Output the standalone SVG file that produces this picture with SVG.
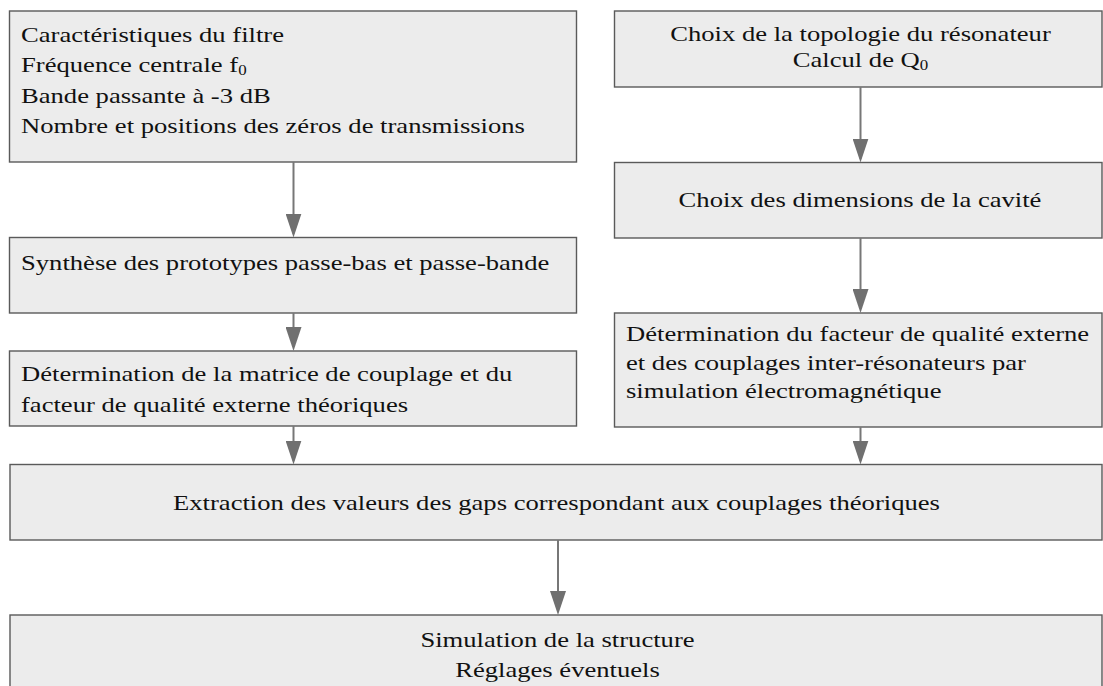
<svg xmlns="http://www.w3.org/2000/svg" width="1103" height="686" viewBox="0 0 1103 686">
<style>
.box{fill:#ececec;stroke:#5a5a5a;stroke-width:1.4}
.t{font-family:"Liberation Serif","Times New Roman",serif;font-size:22px;fill:#111}
.c{text-anchor:middle}
.sub{font-size:14px}
.conn line{stroke:#777;stroke-width:2;marker-end:url(#ah)}
</style>
<defs>
<marker id="ah" markerUnits="userSpaceOnUse" viewBox="0 0 24 16" refX="20" refY="8" markerWidth="24" markerHeight="16" orient="auto">
<path d="M0,0 L24,8 L0,16 z" fill="#707070"/>
</marker>
</defs>
<rect width="1103" height="686" fill="#fff"/>
<g id="n-caracteristiques">
<rect class="box" x="9.5" y="11" width="567" height="151"/>
<text class="t" transform="matrix(1.21 0 0 1 21 41.5)">Caractéristiques du filtre</text>
<text class="t" transform="matrix(1.21 0 0 1 21 72)">Fréquence centrale f<tspan class="sub" dy="3">0</tspan></text>
<text class="t" transform="matrix(1.21 0 0 1 21 102.5)">Bande passante à -3 dB</text>
<text class="t" transform="matrix(1.21 0 0 1 21 133)">Nombre et positions des zéros de transmissions</text>
</g>
<g id="n-synthese">
<rect class="box" x="9.5" y="237.5" width="567" height="75.5"/>
<text class="t" transform="matrix(1.21 0 0 1 21 270)">Synthèse des prototypes passe-bas et passe-bande</text>
</g>
<g id="n-matrice">
<rect class="box" x="9.5" y="351" width="567" height="75"/>
<text class="t" transform="matrix(1.21 0 0 1 21 380.5)">Détermination de la matrice de couplage et du</text>
<text class="t" transform="matrix(1.21 0 0 1 21 411.5)">facteur de qualité externe théoriques</text>
</g>
<g id="n-topologie">
<rect class="box" x="614.5" y="11" width="487.5" height="76"/>
<text class="t c" transform="matrix(1.21 0 0 1 860.5 41)">Choix de la topologie du résonateur</text>
<text class="t c" transform="matrix(1.21 0 0 1 860.5 67)">Calcul de Q<tspan class="sub" dy="3">0</tspan></text>
</g>
<g id="n-dimensions">
<rect class="box" x="614.5" y="162.5" width="487.5" height="75.5"/>
<text class="t c" transform="matrix(1.21 0 0 1 860 207)">Choix des dimensions de la cavité</text>
</g>
<g id="n-facteur">
<rect class="box" x="614.5" y="313" width="487.5" height="114"/>
<text class="t" transform="matrix(1.21 0 0 1 626 341)">Détermination du facteur de qualité externe</text>
<text class="t" transform="matrix(1.21 0 0 1 626 369.5)">et des couplages inter-résonateurs par</text>
<text class="t" transform="matrix(1.21 0 0 1 626 398)">simulation électromagnétique</text>
</g>
<g id="n-extraction">
<rect class="box" x="10" y="464.5" width="1092" height="75.5"/>
<text class="t c" transform="matrix(1.21 0 0 1 556.5 510)">Extraction des valeurs des gaps correspondant aux couplages théoriques</text>
</g>
<g id="n-simulation">
<rect class="box" x="10" y="615" width="1092" height="100"/>
<text class="t c" transform="matrix(1.21 0 0 1 557.5 647)">Simulation de la structure</text>
<text class="t c" transform="matrix(1.21 0 0 1 557.5 677)">Réglages éventuels</text>
</g>
<g id="connectors" class="conn">
<line x1="293.5" y1="162" x2="293.5" y2="233.5"/>
<line x1="293.5" y1="313" x2="293.5" y2="347"/>
<line x1="293.5" y1="426" x2="293.5" y2="460.5"/>
<line x1="860.5" y1="87" x2="860.5" y2="158.5"/>
<line x1="860.5" y1="238" x2="860.5" y2="309"/>
<line x1="860.5" y1="427" x2="860.5" y2="460.5"/>
<line x1="558" y1="540" x2="558" y2="611"/>
</g>
</svg>
